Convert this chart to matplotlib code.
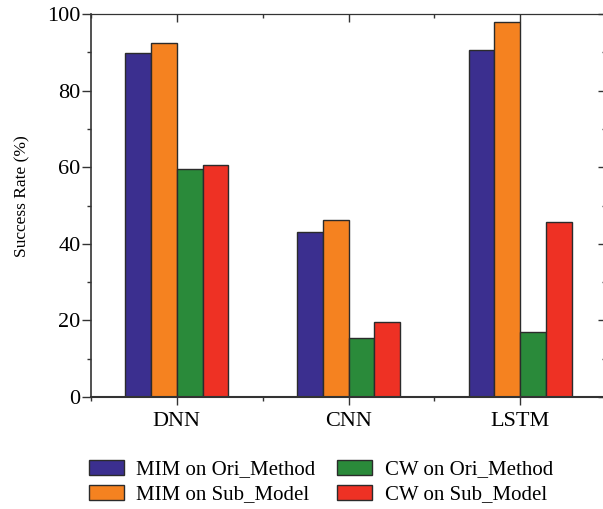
import numpy as np
from matplotlib import pyplot as plt
from matplotlib.ticker import MultipleLocator, FixedLocator

plt.rcParams['font.family'] = ['Liberation Serif', 'DejaVu Serif']

models = ['DNN', 'CNN', 'LSTM']
series = ['MIM on Ori_Method', 'MIM on Sub_Model', 'CW on Ori_Method', 'CW on Sub_Model']
mim_ori = [89.7, 43.0, 90.6]
mim_sub = [92.5, 46.2, 97.9]
cw_ori = [59.5, 15.3, 16.9]
cw_sub = [60.5, 19.7, 45.8]
colors = ['#3b2f8f', '#f58220', '#2a8a3a', '#ee3124']

values = [mim_ori, mim_sub, cw_ori, cw_sub]
tick_col = '#333333'

fig = plt.figure(figsize=(6.03, 5.09), dpi=100)
ax = fig.add_axes([91/603, 1-397/509, 515/603, 383/509])

x = np.arange(1, len(models)+1)
w = 0.15
for i, (vals, lab, c) in enumerate(zip(values, series, colors)):
	ax.bar(x + (i-1.5)*w, vals, w, color=c, edgecolor='#2b2b2b', linewidth=1.0, label=lab)

edges = [0.5, 1.5, 2.5, 3.5]
ax.set_xlim(0.5, 3.5)
ax.set_ylim(0, 100)
ax.set_xticks(x)
ax.set_xticklabels(models, fontsize=16)
ax.xaxis.set_minor_locator(FixedLocator(edges))
ax.yaxis.set_major_locator(MultipleLocator(20))
ax.yaxis.set_minor_locator(MultipleLocator(10))
ax.tick_params(axis='y', labelsize=16, direction='out', length=6.5, width=1, color=tick_col, pad=1)
ax.tick_params(axis='y', which='minor', direction='out', length=3, width=1, color=tick_col)
ax.tick_params(axis='x', direction='out', length=5.5, width=1, color=tick_col, pad=5)
ax.tick_params(axis='x', which='minor', direction='out', length=3, width=1, color=tick_col)
ax.set_ylabel('Success Rate (%)', fontsize=12.5)
ax.yaxis.set_label_coords(-0.117, 0.525)
for s in ax.spines.values():
	s.set_color(tick_col)
ax.spines['left'].set_linewidth(1.2)
ax.spines['bottom'].set_linewidth(1.5)

# mirrored ticks on top and right, pointing inward
top = ax.secondary_xaxis('top')
top.set_xticks(x)
top.set_xticklabels([])
top.xaxis.set_minor_locator(FixedLocator(edges))
top.tick_params(direction='in', length=5.5, width=1, color=tick_col)
top.tick_params(which='minor', direction='in', length=3, width=1, color=tick_col)
right = ax.secondary_yaxis('right')
right.yaxis.set_major_locator(MultipleLocator(20))
right.yaxis.set_minor_locator(MultipleLocator(10))
right.set_yticklabels([])
right.tick_params(direction='in', length=6, width=1, color=tick_col)
right.tick_params(which='minor', direction='in', length=3, width=1, color=tick_col)

fig.legend(ncol=2, loc='center', bbox_to_anchor=(0.532, 0.053), frameon=False, fontsize=15,
	handlelength=1.68, handleheight=0.75, columnspacing=1.05, labelspacing=0.25, handletextpad=0.6)

fig.savefig('out.png', dpi=100)
